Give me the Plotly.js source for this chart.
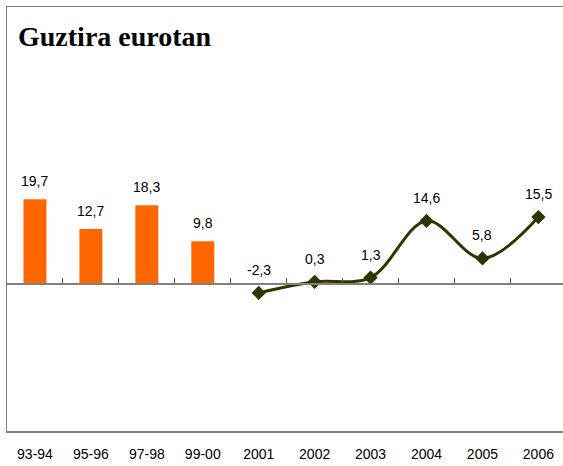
<!DOCTYPE html>
<html>
<head>
<meta charset="utf-8">
<script src="https://cdn.plot.ly/plotly-3.0.1.min.js"></script>
<style>html,body{margin:0;padding:0;background:#fff;}#chart{width:563px;height:466px;}</style>
</head>
<body>
<div id="chart"></div>
<script>
const categories = ["93-94","95-96","97-98","99-00","2001","2002","2003","2004","2005","2006"];
const barCategories = ["93-94","95-96","97-98","99-00"];
const barValues = [19.7, 12.7, 18.3, 9.8];
const lineCategories = ["2001","2002","2003","2004","2005","2006"];
const lineValues = [-2.3, 0.3, 1.3, 14.6, 5.8, 15.5];
const titleText = "Guztira eurotan";

const fmt = v => v.toFixed(1).replace(".", ",");
const idx = c => categories.indexOf(c);
const yMin = -34.7, yMax = 64.8;
const zeroPos = (0 - yMin) / (yMax - yMin);
const xRange = [-0.5, 9.44];
const labelFont = {family: "Liberation Sans, Arial", size: 14, color: "#000"};

const traces = [
  {type: "bar", x: barCategories.map(idx), y: barValues, marker: {color: "#FF6600"}, width: 0.41,
   xaxis: "x", yaxis: "y", hoverinfo: "skip"},
  {type: "scatter", mode: "lines+markers", x: lineCategories.map(idx), y: lineValues,
   xaxis: "x2", yaxis: "y",
   line: {color: "#333300", width: 3, shape: "spline", smoothing: 1},
   marker: {symbol: "diamond", size: 11, color: "#333300"}, hoverinfo: "skip"}
];

const annotations = [];
barCategories.forEach((c, i) => annotations.push({xref: "x", yref: "y", x: idx(c), y: barValues[i],
  text: fmt(barValues[i]), showarrow: false, yanchor: "middle", yshift: 18, font: labelFont}));
lineCategories.forEach((c, i) => annotations.push({xref: "x", yref: "y", x: idx(c), y: lineValues[i],
  text: fmt(lineValues[i]), showarrow: false, yanchor: "middle", yshift: 23, font: labelFont}));

const tickPositions = categories.map((c, i) => i);
const boundaries = categories.map((c, i) => i + 0.5);

const layout = {
  width: 563, height: 466,
  margin: {l: 6.5, r: 0, t: 7, b: 35, pad: 0},
  paper_bgcolor: "#fff", plot_bgcolor: "#fff",
  showlegend: false,
  title: {text: titleText, xref: "container", yref: "container", x: 18/563, xanchor: "left",
          y: 1 - 36/466, yanchor: "middle",
          font: {family: "Liberation Serif, Times New Roman, serif", size: 28, weight: "bold", color: "#000"}},
  xaxis: {type: "linear", range: xRange, tickmode: "array", tickvals: tickPositions, ticktext: categories,
          showline: true, mirror: true, linecolor: "#808080", linewidth: 1.5,
          ticks: "", showgrid: false, zeroline: false, ticklabelstandoff: 10,
          tickfont: labelFont},
  xaxis2: {overlaying: "x", anchor: "free", position: zeroPos, side: "bottom", type: "linear", range: xRange,
           tickmode: "array", tickvals: boundaries, ticks: "inside", ticklen: 5, tickcolor: "#555", tickwidth: 1,
           showticklabels: false, showline: true, linecolor: "#808080", linewidth: 1.5,
           showgrid: false, zeroline: false},
  yaxis: {range: [yMin, yMax], showline: true, linecolor: "#808080", linewidth: 1.5, mirror: false,
          showgrid: false, zeroline: false, showticklabels: false, ticks: ""},
  annotations: annotations
};

Plotly.newPlot("chart", traces, layout, {staticPlot: true, displayModeBar: false});
</script>
</body>
</html>
